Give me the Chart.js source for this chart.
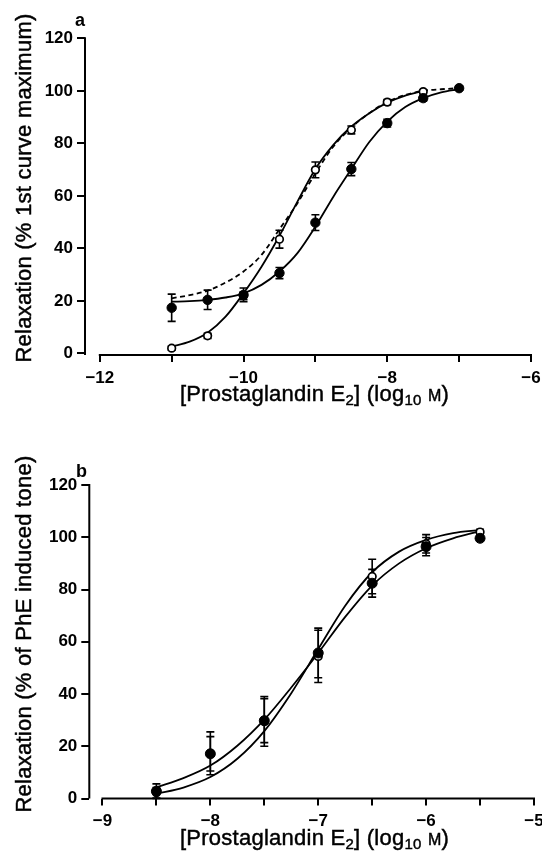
<!DOCTYPE html>
<html>
<head>
<meta charset="utf-8">
<script src="https://cdn.jsdelivr.net/npm/chart.js@4.4.1/dist/chart.umd.min.js"></script>
<style>
  body { margin: 0; width: 542px; height: 859px; overflow: hidden; position: relative; background: #fff;
         font-family: "Liberation Sans", Arial, sans-serif; color: #000; }
  canvas { position: absolute; left: 0; }
  #chartA { top: 0; }
  #chartB { top: 420px; }
  .panel { position: absolute; font-weight: bold; font-size: 18px; line-height: 18px; }
  .ytitle, .xtitle { position: absolute; font-size: 22px; line-height: 22px; white-space: nowrap;
                     letter-spacing: 0.25px; -webkit-text-stroke: 0.45px #000; }
  .ytitle { transform: translate(-50%, -50%) rotate(-90deg); }
  .xtitle sub { font-size: 15px; vertical-align: -4px; line-height: 0; }
  .xtitle .unit { font-size: 16px; }
</style>
</head>
<body>
<canvas id="chartA" width="542" height="420"></canvas>
<canvas id="chartB" width="542" height="439"></canvas>
<div class="panel" style="left:75px;top:11px">a</div>
<div class="panel" style="left:76px;top:462px">b</div>
<div class="ytitle" style="left:24px;top:188px">Relaxation (% 1st curve maximum)</div>
<div class="ytitle" style="left:24px;top:634px">Relaxation (% of PhE induced tone)</div>
<div class="xtitle" style="left:180px;top:383px">[Prostaglandin E<sub>2</sub>] (log<sub>10</sub> <span class="unit">M</span>)</div>
<div class="xtitle" style="left:180px;top:827px">[Prostaglandin E<sub>2</sub>] (log<sub>10</sub> <span class="unit">M</span>)</div>
<script>
// panel a
const aDoses = [-11, -10.5, -10, -9.5, -9, -8.5, -8, -7.5, -7];
const aOpen = [2.0, 6.7, 22, 43.5, 69.9, 85.1, 95.7, 99.7, null];
const aOpenErr = [0.8, 1, 1.5, 3.4, 3, 1.5, 1, 0.5, 0];
const aFilled = [17.4, 20.4, 22.3, 30.6, 49.8, 70.2, 87.7, 97.2, 101];
const aFilledErr = [5.2, 3.7, 2.6, 2.1, 3.0, 2.5, 1.5, 1.2, 0.8];
const aCurveX = [-11, -10.75, -10.5, -10.25, -10, -9.75, -9.5, -9.25, -9, -8.75, -8.5, -8.25, -8, -7.75, -7.5, -7.25, -7];
const aOpenCurve = [2.6, 4.5, 7.9, 14, 22.9, 33, 44.8, 57.8, 70.2, 79.4, 86.4, 91.5, 95.5, 98.2, 100];
const aFilledCurve = [19.7, 19.9, 20.4, 21.3, 22.9, 26.1, 31.2, 38.2, 48.3, 59.7, 70.2, 80.5, 88.3, 93.8, 97.2, 99.4, 100.6];
const aDashedCurve = [21, 22.2, 23.9, 27, 31.2, 37.5, 47.3, 57.2, 68.6, 78.8, 86, 91.5, 95.8, 98.4, 100, 100.6, 101];
const aXTicks = [-12, -11, -10, -9, -8, -7, -6];
const aXLabels = [-12, -10, -8, -6];

// panel b
const bDoses = [-8.5, -8, -7.5, -7, -6.5, -6, -5.5];
const bOpen = [2.2, 17.3, 29.5, 54.4, 85, 97.5, 102];
const bOpenErr = [2, 8.2, 9.5, 10, 6.6, 3.5, 1];
const bFilled = [2.8, 17.1, 29.8, 55.7, 82.4, 96.4, 99.6];
const bFilledErr = [2.8, 6.6, 8.4, 9.5, 5.3, 3.5, 1];
const bCurveX = [-8.5, -8.25, -8, -7.75, -7.5, -7.25, -7, -6.75, -6.5, -6.25, -6, -5.75, -5.5];
const bShallowCurve = [4.3, 7.8, 12.6, 20.2, 30.2, 42.5, 55.7, 69.5, 81.5, 90, 95.8, 99.6, 102.3];
const bSteepCurve = [1.8, 4.2, 8.2, 15.2, 25.8, 40.3, 57.2, 73.8, 86.6, 94.5, 99, 101.6, 102.8];
const bXTicks = [-9, -8.5, -8, -7.5, -7, -6.5, -6, -5.5, -5];
const bXLabels = [-9, -8, -7, -6, -5];

const yTicks = [0, 20, 40, 60, 80, 100, 120];

const tickFont = { family: '"Liberation Sans", Arial, sans-serif', size: 17, weight: 'bold' };
const minus = v => (v < 0 ? '\u2212' + Math.abs(v) : String(v));
const pts = (xs, ys) => ys.map((y, i) => ({ x: xs[i], y }));

// axis lines: y axis full height, x axis only from first to last tick
const axisLines = {
    id: 'axisLines',
    beforeDatasetsDraw(chart, args, opts) {
        const { ctx, chartArea, scales: { x } } = chart;
        ctx.save();
        ctx.strokeStyle = '#000';
        ctx.lineWidth = 2;
        ctx.beginPath();
        ctx.moveTo(chartArea.left, chartArea.top - 1);
        ctx.lineTo(chartArea.left, chartArea.bottom);
        ctx.moveTo(x.getPixelForValue(opts.xFrom) - 1, chartArea.bottom);
        ctx.lineTo(x.getPixelForValue(opts.xTo) + 1, chartArea.bottom);
        ctx.stroke();
        ctx.restore();
    }
};

// SEM bars with caps
const errorBars = {
    id: 'errorBars',
    beforeDatasetsDraw(chart) {
        const { ctx, scales: { x, y } } = chart;
        ctx.save();
        ctx.strokeStyle = '#000';
        ctx.lineWidth = 1.6;
        chart.data.datasets.forEach(ds => {
            if (!ds.errors) return;
            ds.data.forEach((p, i) => {
                const e = ds.errors[i];
                if (p.y == null || !e) return;
                const px = x.getPixelForValue(p.x);
                const top = y.getPixelForValue(p.y + e);
                const bot = y.getPixelForValue(p.y - e);
                ctx.beginPath();
                ctx.moveTo(px, top); ctx.lineTo(px, bot);
                ctx.moveTo(px - 4, top); ctx.lineTo(px + 4, top);
                ctx.moveTo(px - 4, bot); ctx.lineTo(px + 4, bot);
                ctx.stroke();
            });
        });
        ctx.restore();
    }
};

const drawChart = (id, o) => {
    new Chart(document.getElementById(id), {
        type: 'scatter',
        data: {
            datasets: [
                {
                    data: pts(o.doses, o.filled), errors: o.filledErr, order: 0,
                    pointRadius: o.dot, pointBackgroundColor: '#000', pointBorderColor: '#000', pointBorderWidth: 1
                },
                {
                    data: pts(o.doses, o.open), errors: o.openErr, order: 1,
                    pointRadius: 3.8, pointBackgroundColor: '#fff', pointBorderColor: '#000', pointBorderWidth: 1.7
                },
                ...o.curves.map(c => ({
                    data: pts(c.x, c.y), showLine: true, pointRadius: 0, order: 2,
                    borderColor: '#000', borderWidth: 1.8, borderDash: c.dash || [],
                    cubicInterpolationMode: 'monotone'
                }))
            ]
        },
        options: {
            responsive: false,
            animation: false,
            events: [],
            layout: { padding: o.padding },
            plugins: {
                legend: { display: false },
                tooltip: { enabled: false },
                axisLines: { xFrom: o.xTicks[0], xTo: o.xTicks[o.xTicks.length - 1] }
            },
            scales: {
                x: {
                    type: 'linear', min: o.xMin, max: o.xMax,
                    border: { display: false },
                    grid: { drawOnChartArea: false, drawTicks: true, tickLength: 7, lineWidth: 2, color: '#000' },
                    afterBuildTicks: s => { s.ticks = o.xTicks.map(value => ({ value })); },
                    afterFit: s => { s.height = o.xHeight; s.paddingLeft = 0; s.paddingRight = 0; },
                    ticks: {
                        autoSkip: false, maxRotation: 0, padding: 6, color: '#000', font: tickFont,
                        callback: v => (o.xLabels.includes(v) ? minus(v) : '')
                    }
                },
                y: {
                    type: 'linear', min: o.yMin, max: 120,
                    border: { display: false },
                    grid: { drawOnChartArea: false, drawTicks: true, tickLength: 8, lineWidth: 2, color: '#000' },
                    afterBuildTicks: s => { s.ticks = yTicks.map(value => ({ value })); },
                    afterFit: s => { s.width = o.yWidth; },
                    ticks: { padding: 4, color: '#000', font: tickFont, callback: v => String(v) }
                }
            }
        },
        plugins: [axisLines, errorBars]
    });
};

window.onload = () => {
    drawChart('chartA', {
        doses: aDoses, open: aOpen, openErr: aOpenErr, filled: aFilled, filledErr: aFilledErr,
        curves: [
            { x: aCurveX, y: aOpenCurve },
            { x: aCurveX, y: aFilledCurve },
            { x: aCurveX, y: aDashedCurve, dash: [5, 3.5] }
        ],
        xTicks: aXTicks, xLabels: aXLabels,
        xMin: -12.206, xMax: -6, yMin: -0.6,
        padding: { top: 38.3, right: 11, left: 0, bottom: 0 },
        xHeight: 65, yWidth: 85, dot: 4.7
    });
    drawChart('chartB', {
        doses: bDoses, open: bOpen, openErr: bOpenErr, filled: bFilled, filledErr: bFilledErr,
        curves: [
            { x: bCurveX, y: bShallowCurve },
            { x: bCurveX, y: bSteepCurve }
        ],
        xTicks: bXTicks, xLabels: bXLabels,
        xMin: -9.122, xMax: -5, yMin: 0,
        padding: { top: 65, right: 8, left: 0, bottom: 0 },
        xHeight: 60.5, yWidth: 89.3, dot: 5
    });
};
</script>
</body>
</html>
